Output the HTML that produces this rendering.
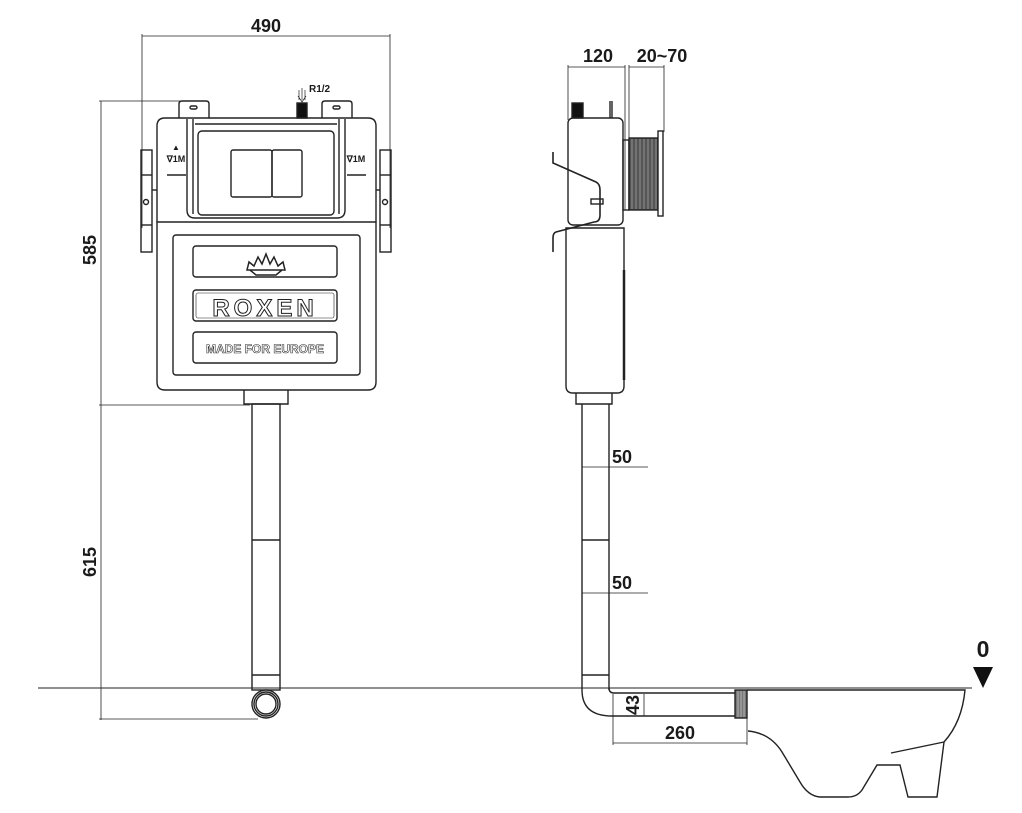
<!DOCTYPE html>
<html><head><meta charset="utf-8"><style>
html,body{margin:0;padding:0;background:#fff;}
svg{display:block;}
text{font-family:"Liberation Sans",Arial,sans-serif;font-weight:bold;fill:#1a1a1a;}
</style></head><body>
<svg width="1022" height="813" viewBox="0 0 1022 813" xmlns="http://www.w3.org/2000/svg">
<g fill="none" stroke="#222" stroke-width="1.4">
<line x1="142" y1="36" x2="390" y2="36" stroke-width="0.8"/>
<line x1="142" y1="34" x2="142" y2="228" stroke-width="0.8"/>
<line x1="390" y1="34" x2="390" y2="228" stroke-width="0.8"/>
<line x1="101" y1="101" x2="101" y2="720" stroke-width="0.8"/>
<line x1="99" y1="101" x2="180" y2="101" stroke-width="0.8"/>
<line x1="99" y1="405" x2="250" y2="405" stroke-width="0.8"/>
<line x1="99" y1="719" x2="258" y2="719" stroke-width="0.8"/>
<line x1="38" y1="688" x2="972" y2="688" stroke-width="1"/>
<path d="M179 118 V104 Q179 101 182 101 H206 Q209 101 209 104 V118"/>
<rect x="190" y="106" width="7" height="3" rx="1.5"/>
<path d="M322 118 V104 Q322 101 325 101 H349 Q352 101 352 104 V118"/>
<rect x="333" y="106" width="7" height="3" rx="1.5"/>
<rect x="297" y="103" width="10" height="15" fill="#111"/>
<path d="M299 100 V90 M302 100 V88 M305 100 V90 M298 96 L302 102 L306 96" stroke-width="0.7"/>
<path d="M157 222 V126 Q157 118 165 118 H368 Q376 118 376 126 V222"/>
<path d="M187 119 V210 Q187 218 195 218 H337 Q345 218 345 210 V119"/>
<line x1="193" y1="119" x2="193" y2="214"/>
<line x1="339" y1="119" x2="339" y2="214"/>
<line x1="195" y1="124" x2="337" y2="124"/>
<rect x="198" y="131" width="136" height="84" rx="4"/>
<rect x="231" y="150" width="41" height="47" rx="2"/>
<rect x="272" y="150" width="30" height="47" rx="2"/>
<line x1="167" y1="175" x2="186" y2="175"/>
<line x1="347" y1="175" x2="366" y2="175"/>
<rect x="141" y="150" width="11" height="102"/>
<rect x="380" y="150" width="11" height="102"/>
<line x1="141" y1="175" x2="152" y2="175"/><line x1="141" y1="225" x2="152" y2="225"/>
<line x1="380" y1="175" x2="391" y2="175"/><line x1="380" y1="225" x2="391" y2="225"/>
<circle cx="146" cy="202" r="2.5"/><circle cx="385" cy="202" r="2.5"/>
<line x1="152" y1="190" x2="157" y2="190"/><line x1="376" y1="190" x2="380" y2="190"/>
<path d="M157 222 H376 V382 Q376 390 368 390 H165 Q157 390 157 382 Z"/>
<rect x="173" y="235" width="187" height="140" rx="3"/>
<rect x="193" y="246" width="144" height="31" rx="3"/>
<rect x="193" y="290" width="144" height="31" rx="3"/>
<rect x="196" y="293" width="138" height="25" rx="2" stroke-width="0.6"/>
<rect x="193" y="332" width="144" height="31" rx="3"/>
<path d="M247 270 L249 262 L254 266 L258 257 L262 264 L266 254 L270 264 L274 257 L278 266 L283 262 L285 270 Z M250 270 L256 275 H276 L282 270" stroke-width="1.5"/>
<path d="M244 390 V404 H288 V390"/>
<rect x="252" y="404" width="28" height="286"/>
<line x1="252" y1="540" x2="280" y2="540"/>
<line x1="252" y1="675" x2="280" y2="675"/>
<circle cx="266" cy="704" r="14" fill="#fff"/>
<circle cx="266" cy="704" r="12"/>
<circle cx="266" cy="704" r="10"/>
<line x1="568" y1="67" x2="625" y2="67" stroke-width="0.8"/>
<line x1="629" y1="67" x2="664" y2="67" stroke-width="0.8"/>
<line x1="568" y1="65" x2="568" y2="120" stroke-width="0.8"/>
<line x1="625" y1="65" x2="625" y2="210" stroke-width="0.8"/>
<line x1="629" y1="65" x2="629" y2="140" stroke-width="0.8"/>
<line x1="664" y1="65" x2="664" y2="132" stroke-width="0.8"/>
<rect x="572" y="103" width="11" height="15" fill="#111"/>
<line x1="610" y1="101" x2="610" y2="118"/><line x1="612" y1="101" x2="612" y2="118"/>
<rect x="568" y="118" width="55" height="107" rx="5"/>
<rect x="623" y="140" width="6" height="70"/>
<rect x="629" y="138" width="29" height="72" fill="#555" stroke="#222"/>
<g stroke="#bbb" stroke-width="0.6">
<line x1="632" y1="139" x2="632" y2="209"/><line x1="636" y1="139" x2="636" y2="209"/><line x1="640" y1="139" x2="640" y2="209"/><line x1="644" y1="139" x2="644" y2="209"/><line x1="648" y1="139" x2="648" y2="209"/><line x1="652" y1="139" x2="652" y2="209"/><line x1="656" y1="139" x2="656" y2="209"/>
</g>
<rect x="658" y="131" width="5" height="85" fill="#fff"/>
<path d="M553 152 V163 L596 182 Q600 184 600 190 V215 Q600 222 594 222 L556 232 Q553 233 553 238 V252" stroke-width="1.6"/>
<rect x="591" y="199" width="12" height="5"/>
<path d="M566 228 H624 V386 Q624 393 617 393 H573 Q566 393 566 386 Z"/>
<line x1="624" y1="270" x2="624" y2="380" stroke-width="2.5"/>
<path d="M576 393 V404 H612 V393"/>
<line x1="582" y1="404" x2="582" y2="690"/>
<line x1="609" y1="404" x2="609" y2="690"/>
<line x1="582" y1="540" x2="609" y2="540"/>
<line x1="582" y1="675" x2="609" y2="675"/>
<path d="M582 690 Q582 716 612 716 H735"/>
<path d="M609 688 Q609 693 614 693 H735"/>
<line x1="613" y1="694" x2="613" y2="745" stroke-width="0.8"/>
<line x1="644" y1="694" x2="644" y2="716" stroke-width="0.8"/>
<line x1="613" y1="743" x2="747" y2="743" stroke-width="0.8"/>
<line x1="747" y1="718" x2="747" y2="745" stroke-width="0.8"/>
<rect x="735" y="690" width="12" height="28" fill="#777"/>
<g stroke="#ddd" stroke-width="0.6"><line x1="738" y1="691" x2="738" y2="717"/><line x1="741" y1="691" x2="741" y2="717"/><line x1="744" y1="691" x2="744" y2="717"/></g>
<line x1="582" y1="467" x2="648" y2="467" stroke-width="0.8"/>
<line x1="582" y1="593" x2="648" y2="593" stroke-width="0.8"/>
<path d="M747 690 H965 Q962 722 944 742 L937 797 H908 L900 765 H877 L862 790 Q857 797 848 797 H820 Q808 796 800 782 L782 752 Q770 733 748 731"/>
<path d="M891 753 L944 742"/>
<polygon points="973,667 993,667 983,688" fill="#111" stroke="none"/>
</g>
<text x="266" y="32" font-size="18" text-anchor="middle">490</text>
<text x="309" y="92" font-size="10">R1/2</text>
<text transform="translate(96,250) rotate(-90)" font-size="18" text-anchor="middle">585</text>
<text transform="translate(96,562) rotate(-90)" font-size="18" text-anchor="middle">615</text>
<text x="176" y="162" font-size="9" text-anchor="middle">∇1M</text>
<text x="176" y="150" font-size="8" text-anchor="middle">▲</text>
<text x="356" y="162" font-size="9" text-anchor="middle">∇1M</text>
<text x="265" y="316" font-size="24" text-anchor="middle" font-weight="normal" style="fill:#fff;stroke:#222;stroke-width:1;letter-spacing:4px">ROXEN</text>
<text x="265" y="353" font-size="12" text-anchor="middle" style="fill:#fff;stroke:#333;stroke-width:0.6">MADE FOR EUROPE</text>
<text x="598" y="62" font-size="18" text-anchor="middle">120</text>
<text x="662" y="62" font-size="18" text-anchor="middle">20~70</text>
<text x="612" y="463" font-size="18">50</text>
<text x="612" y="589" font-size="18">50</text>
<text transform="translate(639,705) rotate(-90)" font-size="18" text-anchor="middle">43</text>
<text x="680" y="739" font-size="18" text-anchor="middle">260</text>
<text x="983" y="657" font-size="23" text-anchor="middle">0</text>
</svg>
</body></html>
